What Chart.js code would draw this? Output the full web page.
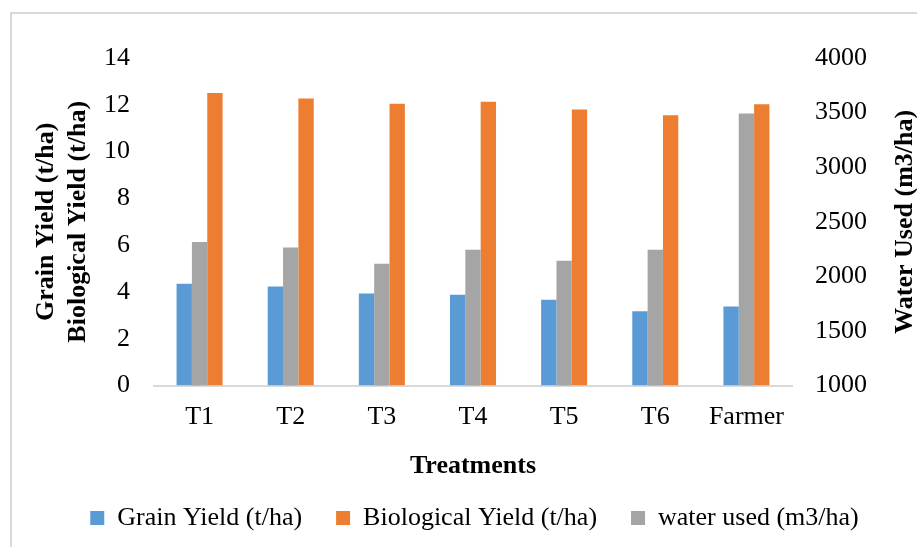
<!DOCTYPE html>
<html>
<head>
<meta charset="utf-8">
<script src="https://cdn.jsdelivr.net/npm/chart.js@4.4.1/dist/chart.umd.min.js"></script>
<style>
  html, body { margin: 0; padding: 0; overflow: hidden; background: #fff; }
  .frame { position: absolute; left: 10px; top: 12px; width: 1000px; height: 700px; border: 2px solid #d9d9d9; }
  .wrap { position: absolute; left: 0; top: 0; width: 917px; height: 547px; }
</style>
</head>
<body>
<div class="frame"></div>
<div class="wrap"><canvas id="chart"></canvas></div>
<script>
const treatments = ["T1", "T2", "T3", "T4", "T5", "T6", "Farmer"];
const grain_yield = [4.35, 4.24, 3.94, 3.88, 3.67, 3.18, 3.38];
const biological_yield = [12.5, 12.27, 12.04, 12.13, 11.8, 11.55, 12.02];
const water_used = [2315, 2265, 2116, 2244, 2144, 2244, 3491];
const legend_order = ["Grain Yield (t/ha)", "Biological Yield (t/ha)", "water used (m3/ha)"];
const right_title = "Water Used (m3/ha)";

const serif = "'Liberation Serif', 'Times New Roman', serif";
const ctx = document.getElementById("chart").getContext("2d");

// right axis title reads bottom-to-top like the left one, so draw it by hand
const rightTitle = {
  id: "rightTitle",
  afterLayout: (chart) => {
    // legend sits a bit right of centre in the original
    chart.legend.left += 16;
    chart.legend.right += 16;
  },
  afterDraw: (chart) => {
    const scale = chart.scales.y1;
    const c = chart.ctx;
    c.save();
    c.translate(scale.right - 12, (chart.chartArea.top + chart.chartArea.bottom) / 2);
    c.rotate(-Math.PI / 2);
    c.font = "bold 26px " + serif;
    c.fillStyle = "#000";
    c.textAlign = "center";
    c.textBaseline = "middle";
    c.fillText(right_title, 0, 0);
    c.restore();
  },
};

const my_chart = new Chart(ctx, {
  type: "bar",
  data: {
    labels: treatments,
    datasets: [
      {
        label: "Grain Yield (t/ha)",
        data: grain_yield,
        backgroundColor: "#5B9BD5",
        yAxisID: "y",
      },
      {
        label: "water used (m3/ha)",
        data: water_used,
        backgroundColor: "#A5A5A5",
        yAxisID: "y1",
      },
      {
        label: "Biological Yield (t/ha)",
        data: biological_yield,
        backgroundColor: "#ED7D31",
        yAxisID: "y",
      },
    ],
  },
  options: {
    responsive: true,
    maintainAspectRatio: false,
    animation: false,
    categoryPercentage: 0.505,
    barPercentage: 1,
    layout: { padding: { top: 58, left: 0, right: 0, bottom: 6 } },
    plugins: {
      tooltip: { enabled: false },
      legend: {
        position: "bottom",
        labels: {
          color: "#000",
          font: { family: serif, size: 26 },
          boxWidth: 14,
          boxHeight: 14,
          padding: 34,
          sort: (a, b) => legend_order.indexOf(a.text) - legend_order.indexOf(b.text),
        },
      },
    },
    scales: {
      x: {
        grid: { display: false, drawTicks: false },
        border: { display: true, color: "#d9d9d9", width: 2 },
        ticks: { color: "#000", font: { family: serif, size: 26 }, padding: 16 },
        title: {
          display: true,
          text: "Treatments",
          color: "#000",
          font: { family: serif, size: 26, weight: "bold" },
          padding: { top: 2, bottom: -11 },
        },
      },
      y: {
        position: "left",
        min: 0,
        max: 14,
        grid: { display: false, drawTicks: false },
        border: { display: false },
        ticks: { stepSize: 2, color: "#000", font: { family: serif, size: 26 }, padding: 24 },
        title: {
          display: true,
          text: ["Grain Yield (t/ha)", "Biological Yield (t/ha)"],
          color: "#000",
          font: { family: serif, size: 26, weight: "bold" },
          padding: { top: 31, bottom: 0 },
        },
        afterFit: (scale) => { scale.width = 154; },
      },
      y1: {
        position: "right",
        min: 1000,
        max: 4000,
        grid: { display: false, drawTicks: false },
        border: { display: false },
        ticks: {
          stepSize: 500,
          color: "#000",
          font: { family: serif, size: 26 },
          padding: 23,
          callback: (v) => String(v),
        },
        title: { display: false },
        afterFit: (scale) => { scale.width = 125; },
      },
    },
  },
  plugins: [rightTitle],
});
</script>
</body>
</html>
